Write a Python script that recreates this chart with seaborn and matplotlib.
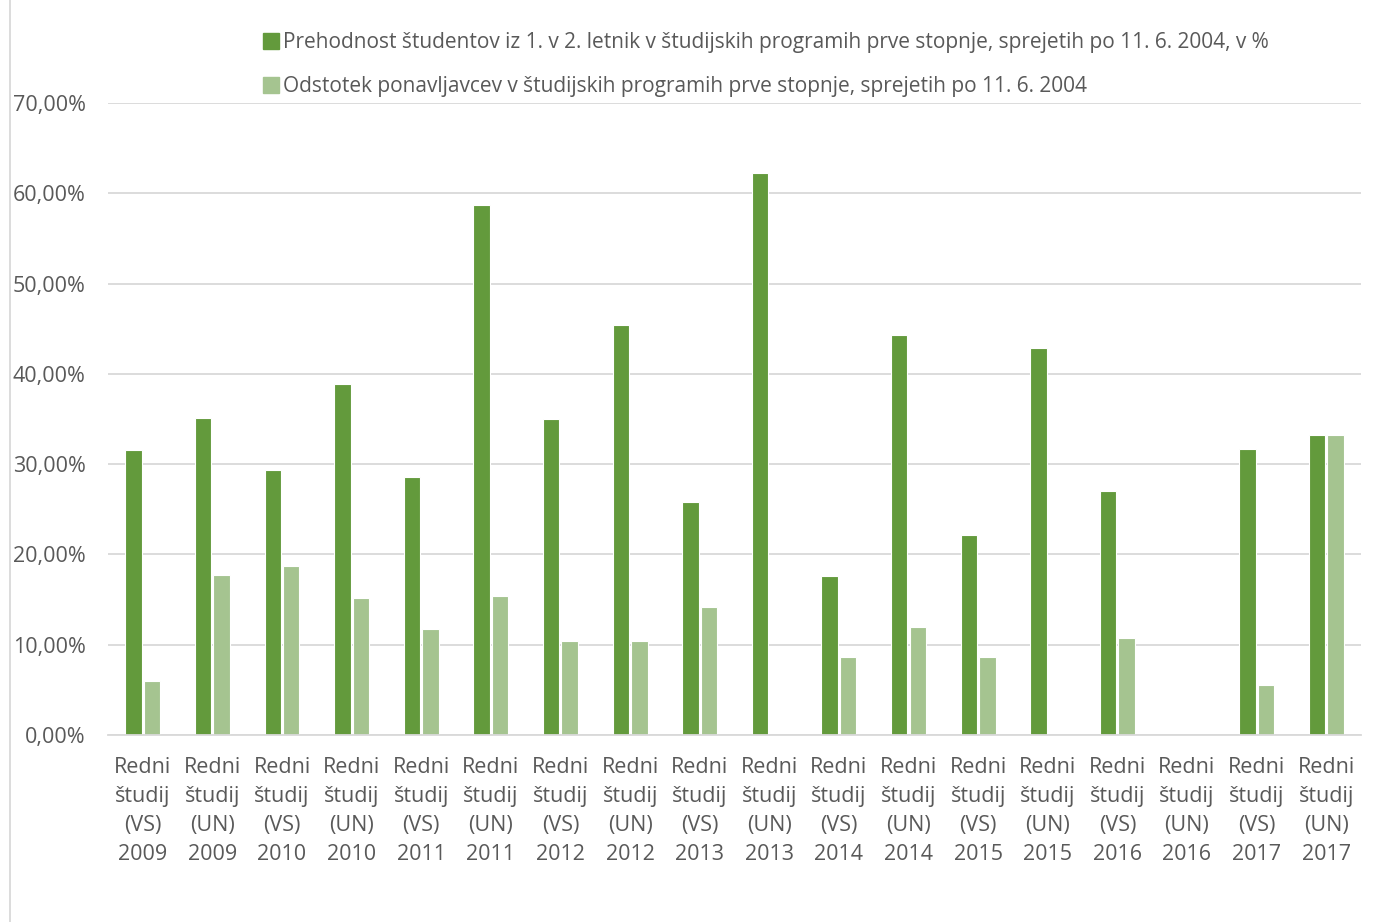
import matplotlib
matplotlib.use("Agg")
import matplotlib.pyplot as plt
import matplotlib.lines as mlines
import seaborn as sns
import pandas as pd
import numpy as np

categories = ["Redni\nštudij\n(VS)\n2009", "Redni\nštudij\n(UN)\n2009",
              "Redni\nštudij\n(VS)\n2010", "Redni\nštudij\n(UN)\n2010",
              "Redni\nštudij\n(VS)\n2011", "Redni\nštudij\n(UN)\n2011",
              "Redni\nštudij\n(VS)\n2012", "Redni\nštudij\n(UN)\n2012",
              "Redni\nštudij\n(VS)\n2013", "Redni\nštudij\n(UN)\n2013",
              "Redni\nštudij\n(VS)\n2014", "Redni\nštudij\n(UN)\n2014",
              "Redni\nštudij\n(VS)\n2015", "Redni\nštudij\n(UN)\n2015",
              "Redni\nštudij\n(VS)\n2016", "Redni\nštudij\n(UN)\n2016",
              "Redni\nštudij\n(VS)\n2017", "Redni\nštudij\n(UN)\n2017"]
prehodnost = [31.6, 35.1, 29.3, 38.9, 28.6, 58.7, 35.0, 45.4, 25.8, 62.3,
              17.6, 44.3, 22.1, 42.9, 27.0, 0.0, 31.7, 33.2]
ponavljavci = [6.0, 17.7, 18.7, 15.2, 11.7, 15.4, 10.4, 10.4, 14.2, 0.0,
               8.6, 12.0, 8.6, 0.0, 10.7, 0.0, 5.5, 33.2]
series_names = ["Prehodnost študentov iz 1. v 2. letnik v študijskih programih prve stopnje, sprejetih po 11. 6. 2004, v %",
                "Odstotek ponavljavcev v študijskih programih prve stopnje, sprejetih po 11. 6. 2004"]
yticks = [0, 10, 20, 30, 40, 50, 60, 70]

df = pd.DataFrame({
    "cat": categories * 2,
    "val": prehodnost + ponavljavci,
    "series": [series_names[0]] * len(categories) + [series_names[1]] * len(categories),
})

sns.set_theme(style="white")
plt.rcParams["font.family"] = ["Open Sans", "DejaVu Sans"]

fig = plt.figure(figsize=(13.81, 9.22), dpi=100)
ax = fig.add_axes([0.0782, 0.2028, 0.9073, 0.6855])

palette = ["#639A3C", "#A5C490"]
sns.barplot(data=df, x="cat", y="val", hue="series", palette=palette,
            width=0.53, gap=0.11, ax=ax, edgecolor="white", linewidth=0.8,
            saturation=1, errorbar=None, legend=False)

ax.set_ylim(0, 70)
ax.set_xlim(-0.5, len(categories) - 0.5)
ax.set_yticks(yticks)
ax.set_yticklabels([f"{v:.2f}%".replace(".", ",") for v in yticks])
ax.yaxis.grid(True, color="#D9D9D9", linewidth=1.3)
ax.set_axisbelow(True)
for s in ["left", "right", "top"]:
    ax.spines[s].set_visible(False)
ax.spines["bottom"].set_color("#D9D9D9")
ax.spines["bottom"].set_linewidth(1.3)
ax.set_xlabel("")
ax.set_ylabel("")
ax.tick_params(axis="both", length=0, labelsize=15.5, colors="#595959")
ax.tick_params(axis="x", pad=16)
ax.tick_params(axis="y", pad=16)
for lbl in ax.get_xticklabels():
    lbl.set_linespacing(1.5)

handles = [mlines.Line2D([], [], marker="s", linestyle="none", markersize=11,
                         color=c) for c in palette]
fig.legend(handles, series_names, loc="upper left", bbox_to_anchor=(0.178, 0.981),
           frameon=False, fontsize=15.0, labelcolor="#595959", handletextpad=0.1,
           labelspacing=1.1, handlelength=1.0, borderpad=0.2)

fig.add_artist(mlines.Line2D([0.0075, 0.0075], [0.0, 1.0], color="#D9D9D9",
                             linewidth=1.3, transform=fig.transFigure))

fig.savefig("out.png", dpi=100, facecolor="white")
